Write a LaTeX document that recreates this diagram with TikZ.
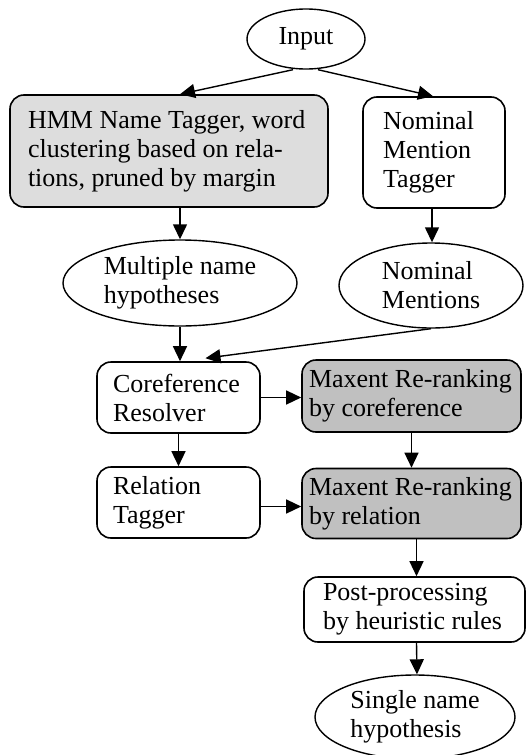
\documentclass[tikz,border=0pt]{standalone}
\usepackage{fontspec}
\setmainfont{Liberation Serif}
\usetikzlibrary{shapes.geometric,arrows.meta}
\definecolor{lightfill}{RGB}{221,221,221}
\definecolor{darkfill}{RGB}{192,192,192}
\begin{document}
\begin{tikzpicture}[x=1pt,y=-1pt,
  every node/.style={font=\fontsize{26}{29}\selectfont},
  box/.style={draw, rounded corners=14pt, line width=1.6pt, inner sep=0pt, align=flush left},
  oval/.style={draw, ellipse, line width=1.4pt, inner sep=0pt, align=left},
  conn/.style={line width=1.4pt, -{Triangle[length=15pt,width=14pt]}}]
\useasboundingbox (0,0) rectangle (526,755);

\node[oval, minimum width=118, minimum height=60] (inp) at (306,39) {Input};
\node[box, fill=lightfill, minimum width=318, minimum height=112, text width=282pt] (hmm) at (169,151)
  {HMM Name Tagger, word\\clustering based on rela-\\tions, pruned by margin};
\node[box, minimum width=142, minimum height=111, text width=102pt] (nmt) at (434,152.5)
  {Nominal\\Mention\\Tagger};
\node[oval, minimum width=234, minimum height=86] (mnh) at (180,283)
  {Multiple name\\hypotheses};
\node[oval, minimum width=184, minimum height=85] (nm) at (431,285.5)
  {Nominal\\Mentions};
\node[box, minimum width=163, minimum height=71, text width=131pt] (cr) at (178.5,397.5)
  {Coreference\\Resolver};
\node[box, fill=darkfill, minimum width=219, minimum height=72, text width=205pt] (mx1) at (411.5,396)
  {Maxent Re-ranking\\by coreference};
\node[box, minimum width=163, minimum height=71, text width=131pt] (rt) at (178.5,502.5)
  {Relation\\Tagger};
\node[box, fill=darkfill, minimum width=219, minimum height=70, text width=205pt] (mx2) at (411.5,503.5)
  {Maxent Re-ranking\\by relation};
\node[box, minimum width=221, minimum height=65, text width=183pt] (pp) at (414.5,609.5)
  {Post-processing\\by heuristic rules};
\node[oval, minimum width=200, minimum height=84] (snh) at (415,717)
  {Single name\\hypothesis};

\draw[conn] ([xshift=-13pt]inp.south) -- ([xshift=11pt]hmm.north);
\draw[conn] ([xshift=12pt]inp.south) -- ([xshift=-1pt]nmt.north);
\draw[conn] ([xshift=11pt]hmm.south) -- (mnh.north);
\draw[conn] ([xshift=-2pt]nmt.south) -- ([xshift=1pt]nm.north);
\draw[conn] (mnh.south) -- (mnh.south |- cr.north);
\draw[conn] (nm.south) -- ([xshift=27pt,yshift=3pt]cr.north);
\draw[conn] (cr.east) -- (cr.east -| mx1.west);
\draw[conn] (cr.south) -- (rt.north);
\draw[conn] (mx1.south) -- (mx2.north);
\draw[conn] ([yshift=-4pt]rt.east) -- ([yshift=-4pt]rt.east -| mx2.west);
\draw[conn] ([xshift=5pt]mx2.south) -- ([xshift=2pt]pp.north);
\draw[conn] ([xshift=2pt]pp.south) -- ([xshift=2pt]snh.north);
\end{tikzpicture}
\end{document}
